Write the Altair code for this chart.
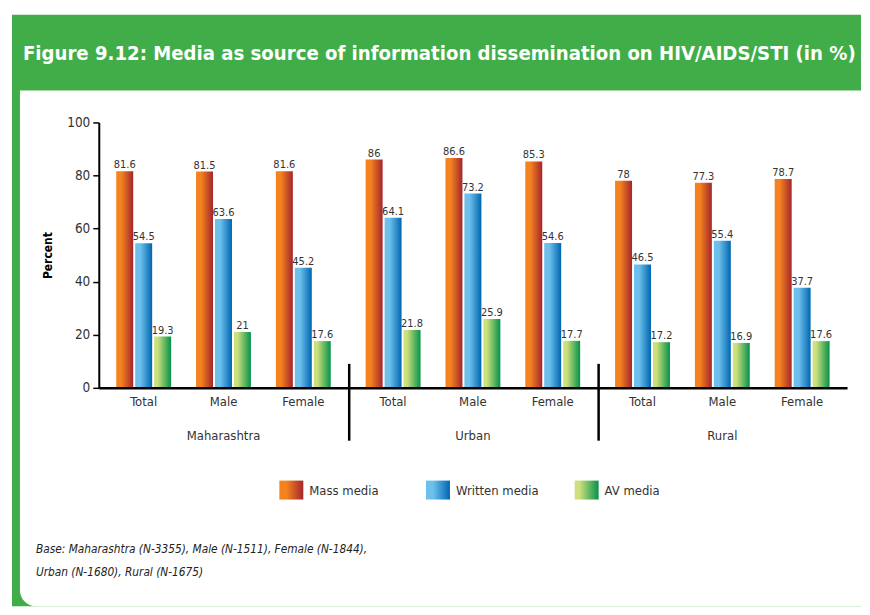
import altair as alt
import pandas as pd

groups = ["Maharashtra", "Urban", "Rural"]
categories = ["Total", "Male", "Female"]
series = ["Mass media", "Written media", "AV media"]
mass_media = [81.6, 81.5, 81.6, 86, 86.6, 85.3, 78, 77.3, 78.7]
written_media = [54.5, 63.6, 45.2, 64.1, 73.2, 54.6, 46.5, 55.4, 37.7]
av_media = [19.3, 21, 17.6, 21.8, 25.9, 17.7, 17.2, 16.9, 17.6]
y_ticks = [0, 20, 40, 60, 80, 100]

title_text = "Figure 9.12: Media as source of information dissemination on HIV/AIDS/STI (in %)"
note_lines = ["Base: Maharashtra (N-3355), Male (N-1511), Female (N-1844),",
              "Urban (N-1680), Rural (N-1675)"]

FONT = "DejaVu Sans Condensed, Liberation Sans Narrow, sans-serif"
GREEN = "#41AD49"
TXT = "#333333"


def grad(c1, c2, mid):
    return alt.LinearGradient(
        gradient="linear", x1=0, x2=1, y1=0, y2=0,
        stops=[alt.GradientStop(color=c1, offset=0),
               alt.GradientStop(color=c1, offset=mid),
               alt.GradientStop(color=c2, offset=1)])


grads = [grad("#F3821F", "#A4262C", 0.3),
         grad("#6CC0EB", "#0066B0", 0.3),
         grad("#CDE07E", "#04924A", 0.2)]

rows = []
for gi, g in enumerate(groups):
    for ci, c in enumerate(categories):
        i = gi * 3 + ci
        for s, vals in zip(series, [mass_media, written_media, av_media]):
            rows.append({"group": g, "cat": c, "series": s, "value": vals[i],
                         "label": f"{vals[i]:g}"})
data = pd.DataFrame(rows)
one = pd.DataFrame({"k": [0]})

BOTTOM = 485  # canvas bottom in panel coordinates
RIGHT = 764   # canvas right in panel coordinates


def panel(g, first):
    df = data[data.group == g]
    xenc = alt.X("cat:N", sort=categories,
                 scale=alt.Scale(domain=categories, paddingInner=0, paddingOuter=0.0625),
                 axis=alt.Axis(title=None, labelAngle=0, ticks=False, domainColor="black",
                               domainWidth=2.5, labelFont=FONT, labelFontSize=13,
                               labelColor=TXT, labelPadding=8, zindex=1))
    xoff = alt.XOffset("series:N", sort=series,
                       scale=alt.Scale(domain=series, paddingInner=0.105, paddingOuter=0.658))
    if first:
        yaxis = alt.Axis(values=y_ticks, title="Percent", grid=False, domainColor="black",
                         domainWidth=2, tickColor="black", tickWidth=1.5, tickSize=6,
                         labelFont=FONT, labelFontSize=13.5, labelColor=TXT, labelPadding=3,
                         titleFont=FONT, titleFontSize=12, titleFontWeight="bold",
                         titleColor="black", titleAngle=270, titleX=-51, titleY=133,
                         titleAlign="center", titleBaseline="middle", zindex=1)
    else:
        yaxis = None
    yenc = alt.Y("value:Q", scale=alt.Scale(domain=[0, 100], nice=False), axis=yaxis)

    layers = []
    if first:
        layers.append(alt.Chart(one).mark_rect(color="white").encode(
            x=alt.value(-90), x2=alt.value(RIGHT), y=alt.value(-113), y2=alt.value(BOTTOM)))
        layers.append(alt.Chart(one).mark_rect(color=GREEN).encode(
            x=alt.value(-87), x2=alt.value(RIGHT), y=alt.value(-108), y2=alt.value(BOTTOM)))
        layers.append(alt.Chart(one).mark_rect(
            color="white", cornerRadiusBottomLeft=16).encode(
            x=alt.value(-79), x2=alt.value(RIGHT), y=alt.value(-32), y2=alt.value(BOTTOM)))
        layers.append(alt.Chart(one).mark_text(
            text=title_text, align="left", baseline="middle", font=FONT, fontSize=20.2,
            fontWeight="bold", color="white").encode(x=alt.value(-76), y=alt.value(-69)))
        for li, s in enumerate(series):
            sx = [181, 328, 477][li]
            layers.append(alt.Chart(one).mark_rect(color=grads[li]).encode(
                x=alt.value(sx), x2=alt.value(sx + 24), y=alt.value(359), y2=alt.value(378)))
            layers.append(alt.Chart(one).mark_text(
                text=s, align="left", baseline="middle", font=FONT, fontSize=13,
                color=TXT).encode(x=alt.value(sx + 30), y=alt.value(369)))
        for ni, line in enumerate(note_lines):
            layers.append(alt.Chart(one).mark_text(
                text=line, align="left", baseline="middle", font=FONT, fontSize=11.8,
                fontStyle="italic", color="#222222").encode(
                x=alt.value(-63), y=alt.value(428 + 23 * ni)))
    else:
        layers.append(alt.Chart(one).mark_rule(color="black", strokeWidth=2.5).encode(
            x=alt.value(1), y=alt.value(242), y2=alt.value(319)))

    for s, gr in zip(series, grads):
        layers.append(alt.Chart(df).transform_filter(alt.datum.series == s)
                      .mark_bar(color=gr).encode(x=xenc, xOffset=xoff, y=yenc))
    layers.append(alt.Chart(df).mark_text(
        baseline="alphabetic", dy=-3, font=FONT, fontSize=11, color=TXT).encode(
        x=xenc, xOffset=xoff, y=yenc, text="label:N"))
    layers.append(alt.Chart(pd.DataFrame({"t": [g]})).mark_text(
        font=FONT, fontSize=13, color=TXT, baseline="middle").encode(
        x=alt.value(125), y=alt.value(314), text="t:N"))
    return alt.layer(*layers).properties(width=250, height=266)


chart = alt.hconcat(
    panel(groups[0], True), panel(groups[1], False), panel(groups[2], False),
    spacing=0, bounds="flush"
).properties(
    padding=0, autosize=alt.AutoSizeParams(type="pad")
).configure_view(stroke="transparent")

chart.save("out.html", embed_options={"renderer": "svg", "actions": False})
